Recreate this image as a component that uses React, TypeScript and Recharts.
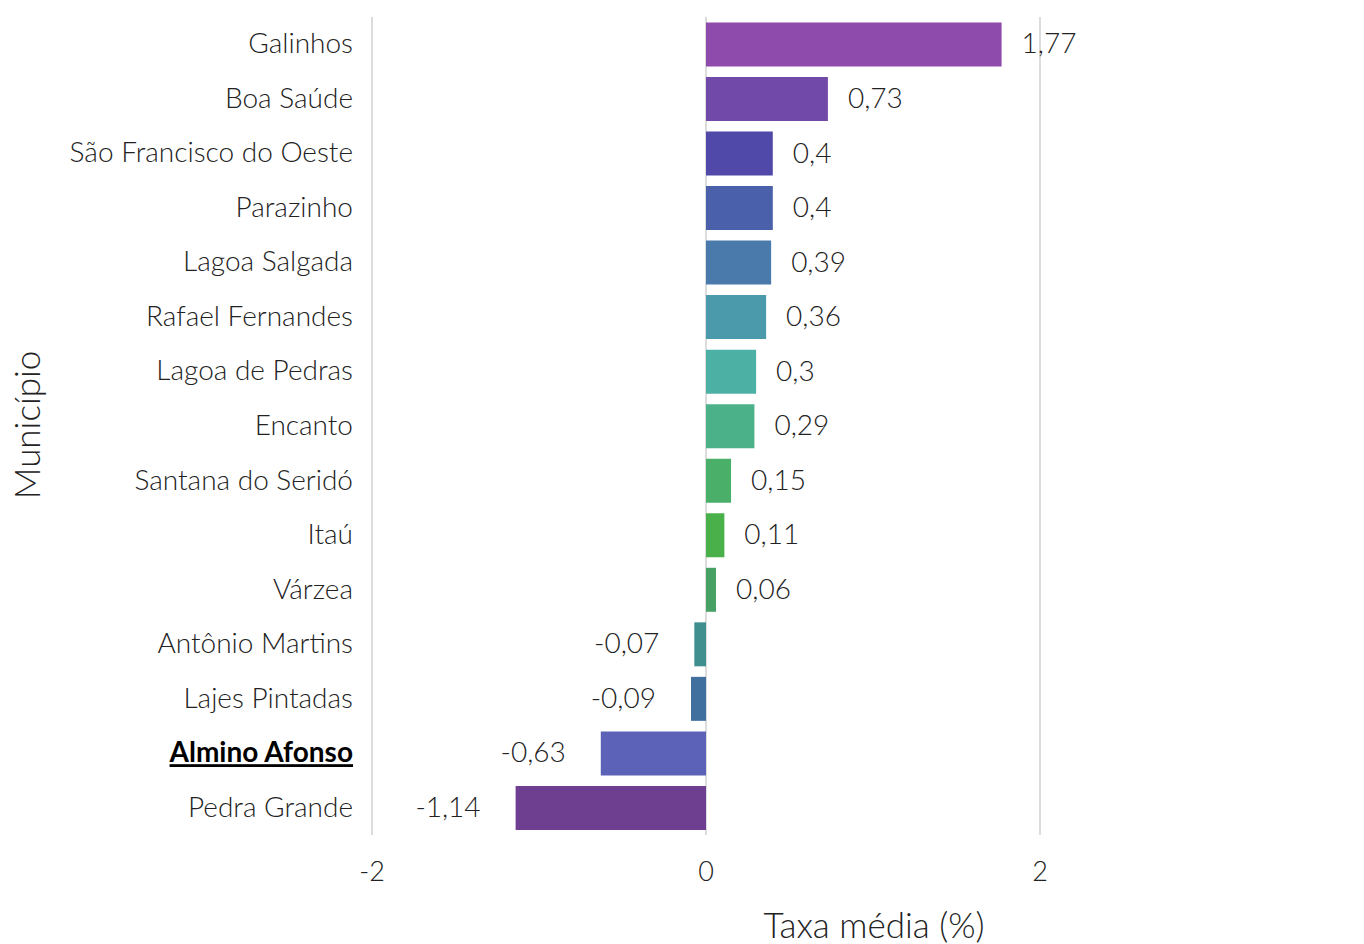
import React from "react";
import {
  BarChart,
  Bar,
  XAxis,
  YAxis,
  CartesianGrid,
  Cell,
  LabelList,
} from "recharts";

const municipios = [
  "Galinhos",
  "Boa Saúde",
  "São Francisco do Oeste",
  "Parazinho",
  "Lagoa Salgada",
  "Rafael Fernandes",
  "Lagoa de Pedras",
  "Encanto",
  "Santana do Seridó",
  "Itaú",
  "Várzea",
  "Antônio Martins",
  "Lajes Pintadas",
  "Almino Afonso",
  "Pedra Grande",
];

const taxas = [1.77, 0.73, 0.4, 0.4, 0.39, 0.36, 0.3, 0.29, 0.15, 0.11, 0.06, -0.07, -0.09, -0.63, -1.14];

const cores = [
  "#8f4bab",
  "#7149a9",
  "#5049a9",
  "#4a60ab",
  "#4a7aab",
  "#4a9aab",
  "#4cb0a4",
  "#4bb189",
  "#4aaf68",
  "#4ab04a",
  "#47a064",
  "#3f8f8f",
  "#41709f",
  "#5b62b7",
  "#6e3e90",
];

const xTicks = [-2, 0, 2];
const destaque = "Almino Afonso";

const data = municipios.map((nome, i) => ({ nome, taxa: taxas[i] }));

const FONT = "Lato, 'Open Sans', sans-serif";
const fmt = (v: number) => String(v).replace(".", ",");

function YTick(props: any) {
  const { x, y, payload } = props;
  const bold = payload.value === destaque;
  return (
    <text
      x={x - 11}
      y={y}
      dy={9}
      textAnchor="end"
      fontFamily={FONT}
      fontSize={28}
      fontWeight={bold ? 700 : 300}
      fill={bold ? "#000" : "#222"}
      textDecoration={bold ? "underline" : undefined}
    >
      {payload.value}
    </text>
  );
}

function XTick(props: any) {
  const { x, y, payload } = props;
  return (
    <text
      x={x}
      y={y + 29}
      dy={9}
      textAnchor="middle"
      fontFamily={FONT}
      fontSize={27}
      fontWeight={300}
      fill="#222"
    >
      {payload.value}
    </text>
  );
}

function ValueLabel(props: any) {
  const { x, y, width, height, value } = props;
  const left = Math.min(x, x + width);
  const right = Math.max(x, x + width);
  const pos = value >= 0;
  return (
    <text
      x={pos ? right + 20 : left - 35}
      y={y + height / 2}
      dy={9}
      textAnchor={pos ? "start" : "end"}
      fontFamily={FONT}
      fontSize={28}
      fontWeight={300}
      fill="#222"
    >
      {fmt(value)}
    </text>
  );
}

export default function App() {
  return (
    <div style={{ position: "absolute", left: 0, top: 0, width: 1364, height: 944, background: "#fff" }}>
      <BarChart
        width={1364}
        height={944}
        data={data}
        layout="vertical"
        margin={{ top: 17, right: 324, bottom: 79, left: 0 }}
        barCategoryGap="10%"
      >
        <CartesianGrid horizontal={false} vertical stroke="#dcdcdc" strokeWidth={2} />
        <XAxis
          type="number"
          domain={[-2, 2]}
          ticks={xTicks}
          axisLine={false}
          tickLine={false}
          tick={<XTick />}
        />
        <YAxis
          type="category"
          dataKey="nome"
          width={372}
          axisLine={false}
          tickLine={false}
          tick={<YTick />}
          interval={0}
        />
        <Bar dataKey="taxa" isAnimationActive={false}>
          {data.map((d, i) => (
            <Cell key={d.nome} fill={cores[i]} />
          ))}
          <LabelList dataKey="taxa" content={<ValueLabel />} />
        </Bar>
        <text
          x={28}
          y={425}
          dy={12}
          transform="rotate(-90 28 425)"
          textAnchor="middle"
          fontFamily={FONT}
          fontSize={35}
          fontWeight={300}
          fill="#222"
        >
          Município
        </text>
        <text
          x={874}
          y={938}
          textAnchor="middle"
          fontFamily={FONT}
          fontSize={35}
          fontWeight={300}
          fill="#222"
        >
          Taxa média (%)
        </text>
      </BarChart>
    </div>
  );
}
